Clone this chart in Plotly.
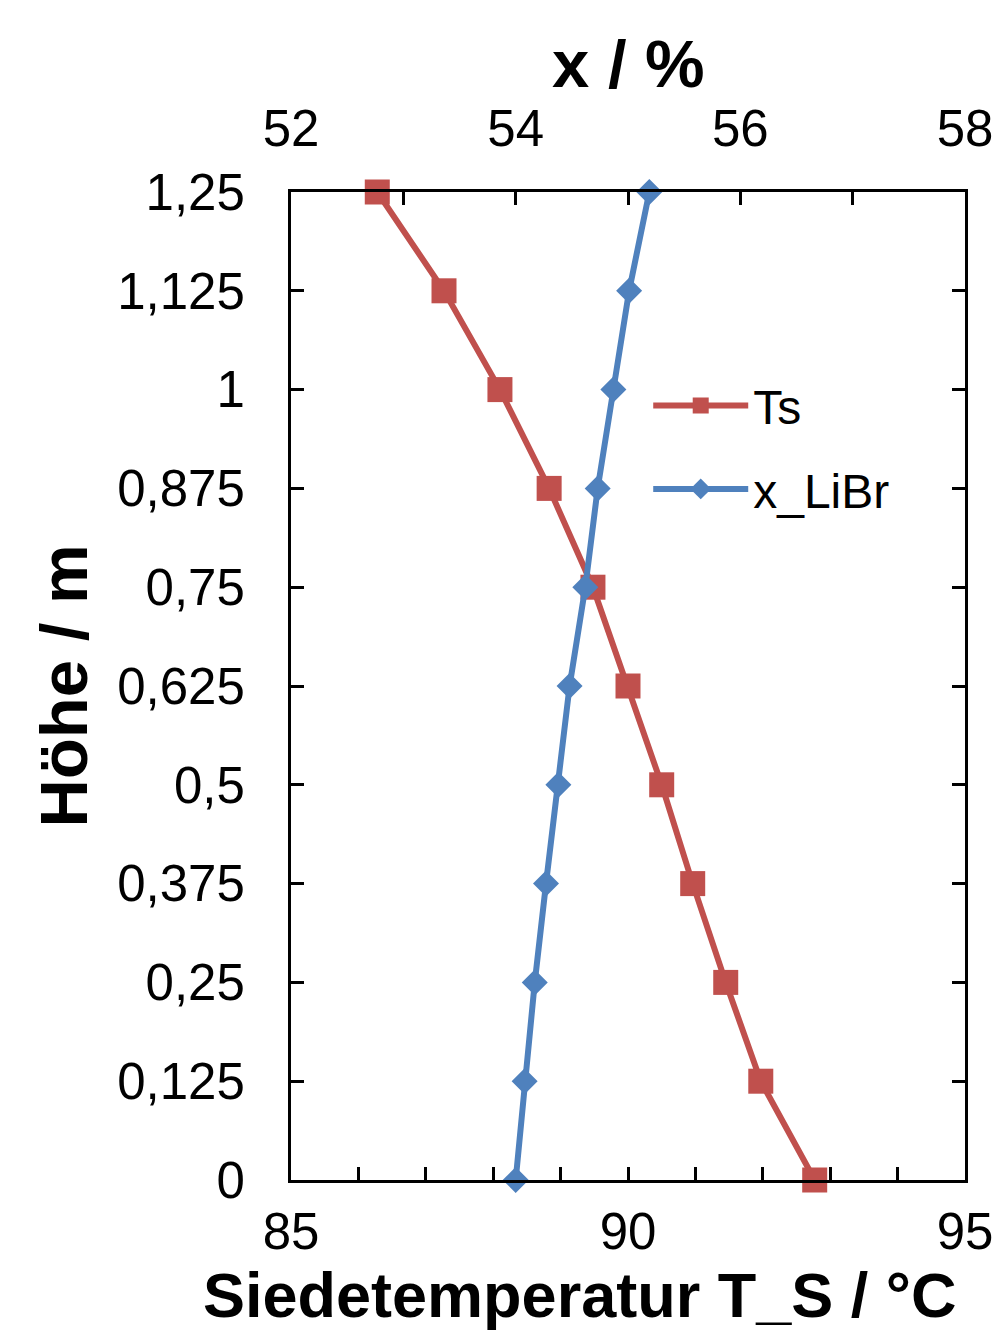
import plotly.graph_objects as go

hoehe = [0, 0.125, 0.25, 0.375, 0.5, 0.625, 0.75, 0.875, 1.0, 1.125, 1.25]
ts = [92.77, 91.97, 91.45, 90.96, 90.50, 90.00, 89.48, 88.83, 88.10, 87.27, 86.28]
x_libr = [54.00, 54.08, 54.17, 54.27, 54.38, 54.48, 54.62, 54.73, 54.87, 55.01, 55.19]
y_tickvals = [0, 0.125, 0.25, 0.375, 0.5, 0.625, 0.75, 0.875, 1.0, 1.125, 1.25]
y_ticktext = ["0", "0,125", "0,25", "0,375", "0,5", "0,625", "0,75", "0,875", "1", "1,125", "1,25"]
x_tickvals = [85, 90, 95]
x2_tickvals = [52, 54, 56, 58]

RED = "#C0504D"
BLUE = "#4F81BD"
FONT = "Liberation Sans, Arial, sans-serif"

fig = go.Figure()
fig.add_trace(go.Scatter(
    x=ts, y=hoehe, name="Ts", mode="lines+markers", legendgroup="ts",
    line=dict(color=RED, width=6),
    marker=dict(symbol="square", size=25, color=RED),
    xaxis="x", yaxis="y", cliponaxis=False,
))
fig.add_trace(go.Scatter(
    x=x_libr, y=hoehe, name="x_LiBr", mode="lines+markers", legendgroup="libr",
    line=dict(color=BLUE, width=6),
    marker=dict(symbol="diamond", size=20, color=BLUE),
    xaxis="x2", yaxis="y", cliponaxis=False,
))

axis_common = dict(
    showline=True, linecolor="black", linewidth=3,
    ticks="inside", tickcolor="black", tickwidth=3, ticklen=13,
    showgrid=False, zeroline=False,
    tickfont=dict(family=FONT, size=51, color="black"),
)
TITLE_FONT = dict(family=FONT, size=67, color="black")
BOTTOM_TITLE_FONT = dict(family=FONT, size=63, color="black")

fig.update_layout(
    width=1001, height=1331,
    margin=dict(l=283, r=44, t=184, b=159),
    paper_bgcolor="white", plot_bgcolor="white",
    font=dict(family=FONT, color="black"),
    xaxis=dict(
        range=[85, 95], tickvals=x_tickvals, ticktext=[str(v) for v in x_tickvals],
        minor=dict(dtick=1, ticks="inside", ticklen=13, tickwidth=3, tickcolor="black"),
        ticklabelstandoff=5,
        **axis_common,
    ),
    xaxis2=dict(
        range=[52, 58], overlaying="x", side="top", anchor="y",
        tickvals=x2_tickvals, ticktext=[str(v) for v in x2_tickvals],
        minor=dict(dtick=1, ticks="inside", ticklen=13, tickwidth=3, tickcolor="black"),
        ticklabelstandoff=23,
        **axis_common,
    ),
    yaxis=dict(
        range=[0, 1.25], tickvals=y_tickvals, ticktext=y_ticktext, mirror="ticks",
        ticklabelstandoff=33,
        title=dict(text="<b>Höhe / m</b>", font=TITLE_FONT, standoff=8),
        **axis_common,
    ),
    legend=dict(
        x=0.53, y=0.822, xanchor="left", yanchor="top",
        font=dict(family=FONT, size=48, color="black"),
        bgcolor="rgba(0,0,0,0)", tracegroupgap=18, itemwidth=95,
    ),
    showlegend=True,
    annotations=[
        dict(
            text="<b>Siedetemperatur T_S / °C</b>", font=BOTTOM_TITLE_FONT,
            xref="paper", yref="paper", x=-0.133, y=0,
            xanchor="left", yanchor="middle", yshift=-115, showarrow=False,
        ),
        dict(
            text="<b>x / %</b>", font=TITLE_FONT,
            xref="paper", yref="paper", x=0.5, y=1,
            xanchor="center", yanchor="middle", yshift=129, showarrow=False,
        ),
    ],
)

fig.write_html("out.html")
